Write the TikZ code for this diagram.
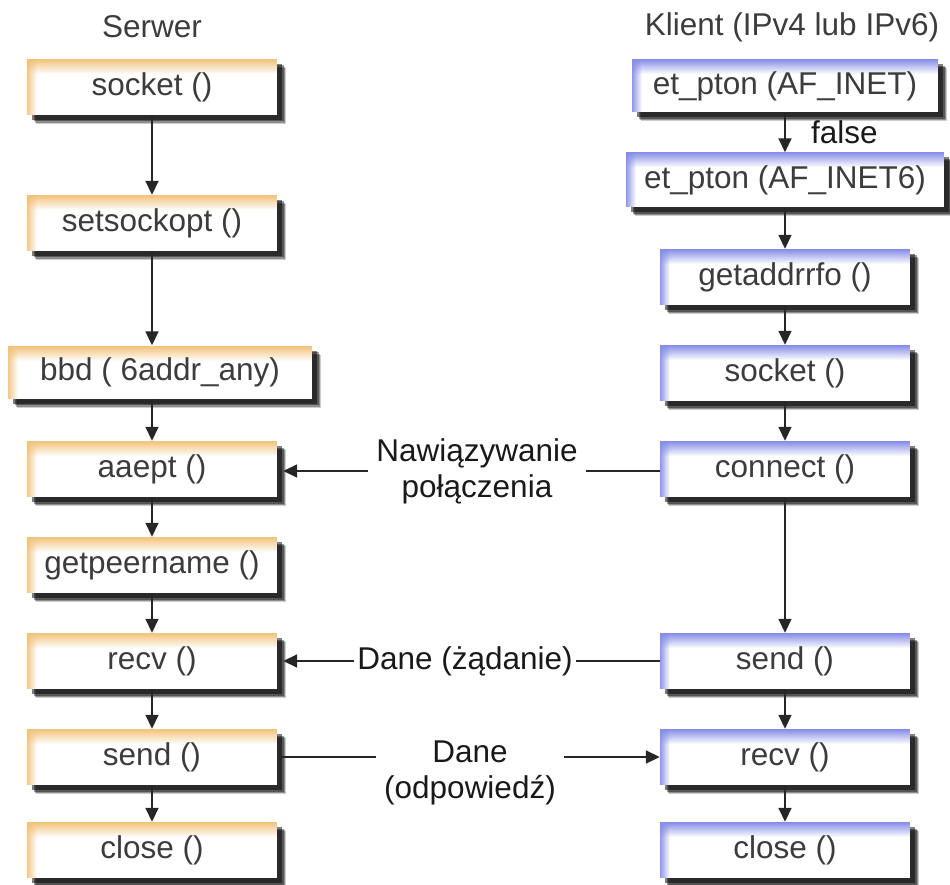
\documentclass[tikz,border=0pt]{standalone}
\usepackage{fontspec}
\setmainfont{Liberation Sans}
\usetikzlibrary{positioning, arrows.meta, shadows}

\definecolor{srvorange}{HTML}{F3C27A}
\definecolor{kliblue}{HTML}{858CE8}
\definecolor{txtgray}{HTML}{3C3C3C}

\tikzset{
  call/.style={rectangle, inner sep=0pt, minimum width=250pt, minimum height=56pt,
    fill=white, text=txtgray,
    drop shadow={shadow xshift=9pt, shadow yshift=-9pt, fill=black, opacity=.2},
    drop shadow={shadow xshift=8pt, shadow yshift=-8pt, fill=black, opacity=.3},
    drop shadow={shadow xshift=6.5pt, shadow yshift=-6.5pt, fill=black, opacity=.4},
    drop shadow={shadow xshift=5pt, shadow yshift=-5pt, fill=black, opacity=.5},
    path picture={
      % poświata od lewej
      \foreach \i [evaluate=\i as \op using {0.9-\i/11}] in {0,...,9}
        \fill[#1, opacity=\op] ([xshift=\i*1pt]path picture bounding box.north west)
          rectangle ([xshift=\i*1pt+1pt]path picture bounding box.south west);
      % poświata od góry
      \foreach \i [evaluate=\i as \op using {1-\i/15}] in {0,...,14}
        \fill[#1, opacity=\op] ([yshift=-\i*1pt]path picture bounding box.north west)
          rectangle ([yshift=-\i*1pt-1pt]path picture bounding box.north east);
    }},
  serwer/.style={call=srvorange},
  klient/.style={call=kliblue},
  flow/.style={-{Triangle[length=14pt, width=13pt]}, line width=1.7pt, draw=black!85},
  link/.style={line width=1.7pt, draw=black!85},
  msg/.style={align=center, text=black!90, inner sep=8pt}
}

\begin{document}
\begin{tikzpicture}[x=1pt, y=-1pt, on grid, node distance=96pt,
    font=\fontsize{31.5}{36}\selectfont]
   \useasboundingbox (0,0) rectangle (950,885);

   % Kolumna serwera
   \node[text=txtgray] (serwer) at (152,27) {Serwer};
   \node[serwer] (ssocket) at (152,87) {socket ()};
   \node[serwer] (setsockopt) [below=136pt of ssocket] {setsockopt ()};
   \node[serwer, minimum width=304pt, minimum height=53pt] (bbd) at (160,372) {bbd ( 6addr\_any)};
   \node[serwer] (aaept) [below=246pt of setsockopt] {aaept ()};
   \node[serwer] (getpeer) [below=of aaept] {getpeername ()};
   \node[serwer] (srecv) [below=of getpeer] {recv ()};
   \node[serwer] (ssend) [below=of srecv] {send ()};
   \node[serwer] (sclose) [below=93pt of ssend] {close ()};

   % Kolumna klienta
   \node[text=txtgray] (klient) at (792,27) {Klient (IPv4 lub IPv6)};
   \node[klient, minimum width=306pt, minimum height=53pt] (pton4) at (785,86) {et\_pton (AF\_INET)};
   \node[klient, minimum width=318pt, minimum height=55pt] (pton6) [below=94pt of pton4] {et\_pton (AF\_INET6)};
   \node[klient] (getaddr) [below=97pt of pton6] {getaddrrfo ()};
   \node[klient] (ksocket) [below=of getaddr] {socket ()};
   \node[klient] (connect) [below=of ksocket] {connect ()};
   \node[klient] (ksend) [below=192pt of connect] {send ()};
   \node[klient] (krecv) [below=of ksend] {recv ()};
   \node[klient] (kclose) [below=93pt of krecv] {close ()};

   % Przejścia serwera
   \draw[flow] (ssocket) -- (setsockopt);
   \draw[flow] (setsockopt.south) -- (setsockopt.south |- bbd.north);
   \draw[flow] (setsockopt.south |- bbd.south) -- (aaept);
   \draw[flow] (aaept) -- (getpeer);
   \draw[flow] (getpeer) -- (srecv);
   \draw[flow] (srecv) -- (ssend);
   \draw[flow] (ssend) -- (sclose);

   % Przejścia klienta
   \draw[flow] (pton4) -- node[anchor=west, xshift=22pt, text=black!90] {false} (pton6);
   \draw[flow] (pton6) -- (getaddr);
   \draw[flow] (getaddr) -- (ksocket);
   \draw[flow] (ksocket) -- (connect);
   \draw[flow] (connect) -- (ksend);
   \draw[flow] (ksend) -- (krecv);
   \draw[flow] (krecv) -- (kclose);

   % Komunikaty
   \node[msg] (nawiaz) at (477,471) {Nawiązywanie\\połączenia};
   \draw[link] (connect.west |- nawiaz.east) -- (nawiaz.east);
   \draw[flow, shorten >=6pt] (nawiaz.west) -- (aaept.east |- nawiaz.west);

   \node[msg, inner sep=3pt] (zadanie) at (465,661) {Dane (żądanie)};
   \draw[link] (ksend) -- (zadanie);
   \draw[flow, shorten >=6pt] (zadanie) -- (srecv);

   \node[msg] (odpow) at (470,773) {Dane\\(odpowiedź)};
   \draw[link] (ssend.east) -- (odpow.west |- ssend.east);
   \draw[flow] (odpow.east |- krecv.west) -- (krecv.west);
\end{tikzpicture}
\end{document}
